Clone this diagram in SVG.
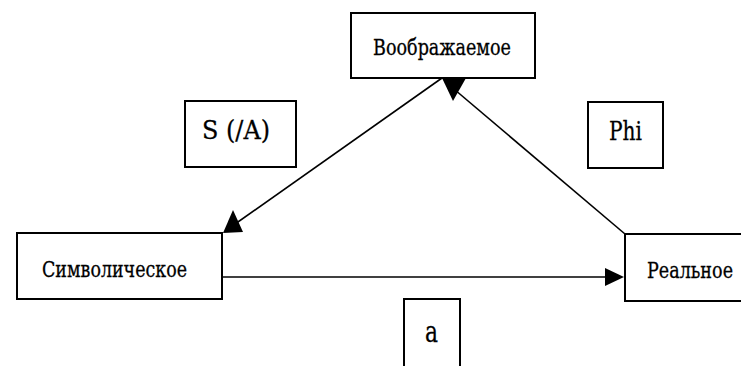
<svg xmlns="http://www.w3.org/2000/svg" width="741" height="366" viewBox="0 0 741 366">
<style>
.box{fill:#fff;stroke:#000;stroke-width:2}
.ln{stroke:#000;stroke-width:1.6;fill:none}
.ah{fill:#000;stroke:none}
.t{font-family:'DejaVu Serif','Liberation Serif',serif;fill:#000;stroke:#000;stroke-width:0.3}
</style>
<rect width="741" height="366" fill="#fff"/>
<g id="connectors">
<line class="ln" x1="442" y1="78" x2="228" y2="229"/>
<line class="ln" x1="625" y1="234" x2="448" y2="84"/>
<line class="ln" x1="222" y1="277" x2="610" y2="277"/>
<polygon class="ah" points="223,233 233,210 243,232"/>
<polygon class="ah" points="442,78 466,78 453,101"/>
<polygon class="ah" points="624,277 605,268 605,286"/>
</g>
<g id="imaginary">
<rect class="box" x="351" y="13" width="184" height="65"/>
<text class="t" x="373" y="55" font-size="23" textLength="138" lengthAdjust="spacingAndGlyphs">Воображаемое</text>
</g>
<g id="sa">
<rect class="box" x="185" y="101" width="111" height="66"/>
<text class="t" x="202" y="139" font-size="26" textLength="68" lengthAdjust="spacingAndGlyphs">S (/A)</text>
</g>
<g id="phi">
<rect class="box" x="588" y="102" width="75" height="66"/>
<text class="t" x="609" y="140" font-size="26" textLength="33" lengthAdjust="spacingAndGlyphs">Phi</text>
</g>
<g id="symbolic">
<rect class="box" x="17" y="233" width="205" height="66"/>
<text class="t" x="42" y="277" font-size="23" textLength="145" lengthAdjust="spacingAndGlyphs">Символическое</text>
</g>
<g id="real">
<path class="box" d="M741,234 H625 V301 H741"/>
<text class="t" transform="translate(647,278) scale(0.75,1)" x="0" y="0" font-size="23" textLength="114.7" lengthAdjust="spacingAndGlyphs">Реальное</text>
</g>
<g id="a">
<path class="box" d="M404,366 V299 H460 V366"/>
<text class="t" x="425" y="342" font-size="30" textLength="13" lengthAdjust="spacingAndGlyphs">a</text>
</g>
</svg>
